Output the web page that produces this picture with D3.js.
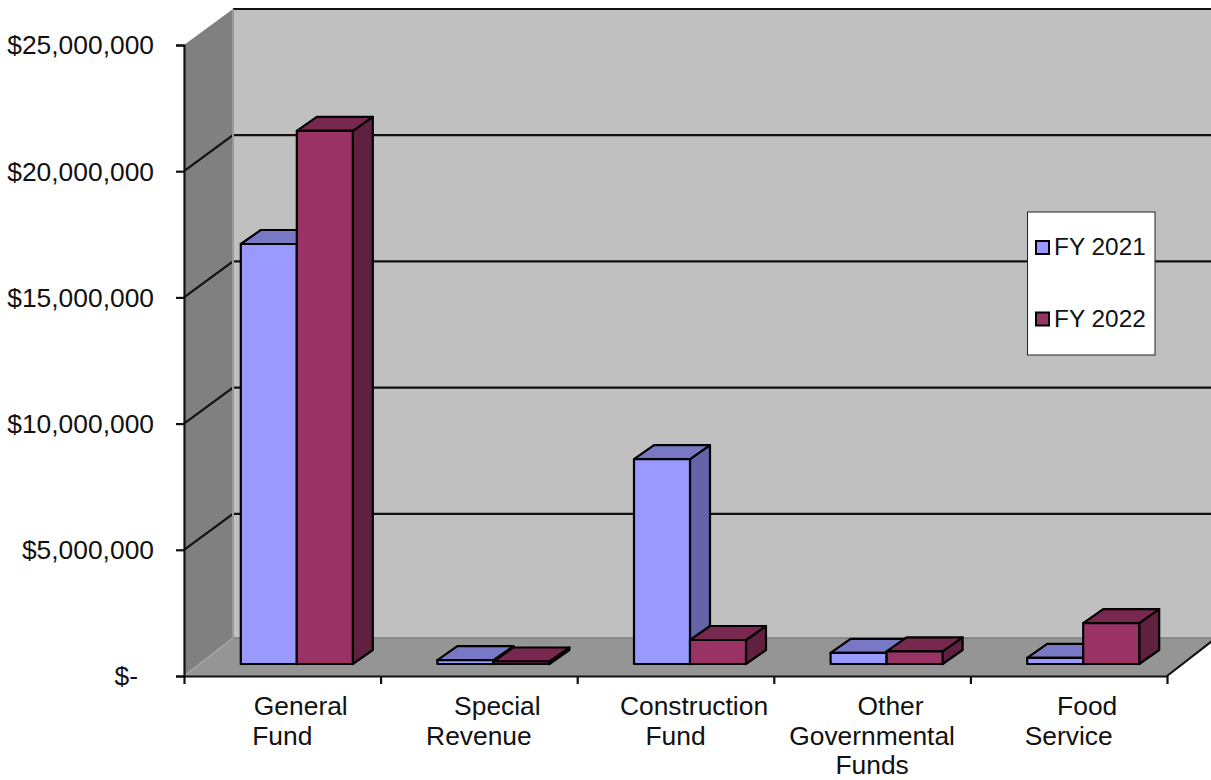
<!DOCTYPE html>
<html>
<head>
<meta charset="utf-8">
<script src="https://cdn.jsdelivr.net/npm/d3@7/dist/d3.min.js"></script>
<style>
html,body{margin:0;padding:0;background:#fff;overflow:hidden}
text{font-family:"Liberation Sans",Arial,sans-serif;fill:#111}
</style>
</head>
<body>
<svg id="chart" width="1211" height="780"></svg>
<script>
// Chart content
const categories = [["General","Fund"],["Special","Revenue"],["Construction","Fund"],["Other","Governmental","Funds"],["Food","Service"]];
const seriesNames = ["FY 2021","FY 2022"];
const fy2021 = [16640000,150000,8120000,440000,240000];
const fy2022 = [21120000,100000,950000,500000,1620000];
const seriesValues = [fy2021,fy2022];
const yTicks = [0,5000000,10000000,15000000,20000000,25000000];

// Colours per series: front, top, side
const palette = [
  {front:"#9999FF",top:"#7878C4",side:"#6464A6"},
  {front:"#993366",top:"#78274F",side:"#60203F"}
];

const svg = d3.select("#chart");

// Oblique projection parameters
const plot = {left:184,right:1167,bottom:676,top:45};
const wall = {dx:49,dy:-36,floorDy:-38};
const bar = {dx:20,dy:-14,lift:-12,width:56};

const x = d3.scaleBand().domain(d3.range(categories.length)).range([plot.left,plot.right]).paddingInner(0).paddingOuter(0);
const y = d3.scaleLinear().domain([0,25000000]).range([plot.bottom,plot.top]);
const fmt = v => v === 0 ? "$-" : "$" + d3.format(",")(v);
const poly = pts => pts.map(p => p.join(",")).join(" ");

// Walls and floor
const x0 = plot.left, x1 = plot.right, yb = plot.bottom, yt = plot.top;
const backFloor = yb + wall.floorDy;
svg.append("polygon").attr("fill","#C0C0C0")
  .attr("points",poly([[x0+wall.dx,yt+wall.dy],[1211,yt+wall.dy],[1211,backFloor],[x0+wall.dx,backFloor]]));
svg.append("polygon").attr("fill","#808080")
  .attr("points",poly([[x0,yt],[x0+wall.dx,yt+wall.dy],[x0+wall.dx,backFloor],[x0,yb]]));

// Gridlines across the back wall and down the side wall
const gridVals = yTicks.filter(v => v > 0);
svg.append("g").selectAll("line.back").data(gridVals).join("line")
  .attr("x1",x0+wall.dx).attr("x2",1211)
  .attr("y1",d => y(d)+wall.dy).attr("y2",d => y(d)+wall.dy)
  .attr("stroke","#111").attr("stroke-width",2.2);
svg.append("g").selectAll("line.side").data(gridVals.filter(v => v < 25000000)).join("line")
  .attr("x1",x0).attr("x2",x0+wall.dx)
  .attr("y1",d => y(d)).attr("y2",d => y(d)+wall.dy)
  .attr("stroke","#111").attr("stroke-width",2.2);
svg.append("line").attr("x1",x0+wall.dx).attr("x2",x0+wall.dx)
  .attr("y1",yt+wall.dy).attr("y2",backFloor)
  .attr("stroke","#9a9a9a").attr("stroke-width",2);

// Floor
svg.append("polygon").attr("fill","#959595")
  .attr("points",poly([[x0,yb],[x1,yb],[x1+wall.dx,backFloor],[x0+wall.dx,backFloor]]));
svg.append("line").attr("x1",x0+wall.dx).attr("x2",1211).attr("y1",backFloor).attr("y2",backFloor)
  .attr("stroke","#7e7e7e").attr("stroke-width",1.5);
svg.append("line").attr("x1",x1).attr("x2",x1+wall.dx).attr("y1",yb).attr("y2",backFloor)
  .attr("stroke","#111").attr("stroke-width",2.2);
svg.append("line").attr("x1",x0).attr("x2",x0+wall.dx).attr("y1",yb).attr("y2",backFloor)
  .attr("stroke","#a8a8a8").attr("stroke-width",1.5);

// Axes
const yAxis = d3.axisLeft(y).tickValues(yTicks).tickFormat(fmt).tickSize(8).tickPadding(22);
const gy = svg.append("g").attr("transform",`translate(${plot.left},0)`).call(yAxis);
gy.selectAll("text").attr("font-size",26.4).attr("dy","0.34em").attr("dx",d => d === 0 ? -16 : 0);
gy.selectAll("path,line").attr("stroke","#111").attr("stroke-width",2.2);

const edges = d3.range(categories.length+1).map(i => plot.left + i*x.bandwidth());
const xEdge = d3.scaleLinear().domain([plot.left,plot.right]).range([plot.left,plot.right]);
const xAxis = d3.axisBottom(xEdge).tickValues(edges).tickFormat("").tickSize(8).tickSizeOuter(0);
const gx = svg.append("g").attr("transform",`translate(0,${plot.bottom})`).call(xAxis);
gx.selectAll("path,line").attr("stroke","#111").attr("stroke-width",2.2);

// Category labels, up to three lines each
const labelG = svg.append("g").attr("font-size",26.4);
categories.forEach((lines,i) => {
  const cx = x(i) + x.bandwidth()/2;
  lines.forEach((ln,j) => {
    labelG.append("text").attr("text-anchor","middle")
      .attr("x",cx + (j === 0 ? 18.5 : 0))
      .attr("y",714.8 + j*29.8)
      .text(ln);
  });
});

// Bars: oblique boxes, first series behind the second
const base = plot.bottom + bar.lift;
const scaleV = d3.scaleLinear().domain([0,25000000]).range([base,plot.top+bar.lift]);
seriesValues.forEach((vals,s) => {
  const g = svg.append("g").attr("stroke","#000").attr("stroke-width",2.2).attr("stroke-linejoin","round");
  const c = palette[s];
  const bx = i => x(i) + x.bandwidth()/2 + 14.5 - bar.width + s*bar.width;
  g.selectAll("polygon.side").data(vals).join("polygon").attr("fill",c.side)
    .attr("points",(v,i) => { const r = bx(i)+bar.width, t = scaleV(v);
      return poly([[r,t],[r+bar.dx,t+bar.dy],[r+bar.dx,base+bar.dy],[r,base]]); });
  g.selectAll("polygon.top").data(vals).join("polygon").attr("fill",c.top)
    .attr("points",(v,i) => { const l = bx(i), t = scaleV(v);
      return poly([[l,t],[l+bar.dx,t+bar.dy],[l+bar.width+bar.dx,t+bar.dy],[l+bar.width,t]]); });
  g.selectAll("rect").data(vals).join("rect").attr("fill",c.front)
    .attr("x",(v,i) => bx(i)).attr("y",v => scaleV(v))
    .attr("width",bar.width).attr("height",v => base - scaleV(v));
});

// Legend
const legend = svg.append("g");
legend.append("rect").attr("x",1027.5).attr("y",212).attr("width",127.5).attr("height",143)
  .attr("fill","#fff").attr("stroke","#222").attr("stroke-width",1);
seriesNames.forEach((name,i) => {
  const cy = 247.5 + i*71.5;
  legend.append("rect").attr("x",1036).attr("y",cy-6.5).attr("width",13).attr("height",13)
    .attr("fill",palette[i].front).attr("stroke","#000").attr("stroke-width",2);
  legend.append("text").attr("x",1054).attr("y",cy+7.5).attr("font-size",24.4).text(name);
});
</script>
</body>
</html>
